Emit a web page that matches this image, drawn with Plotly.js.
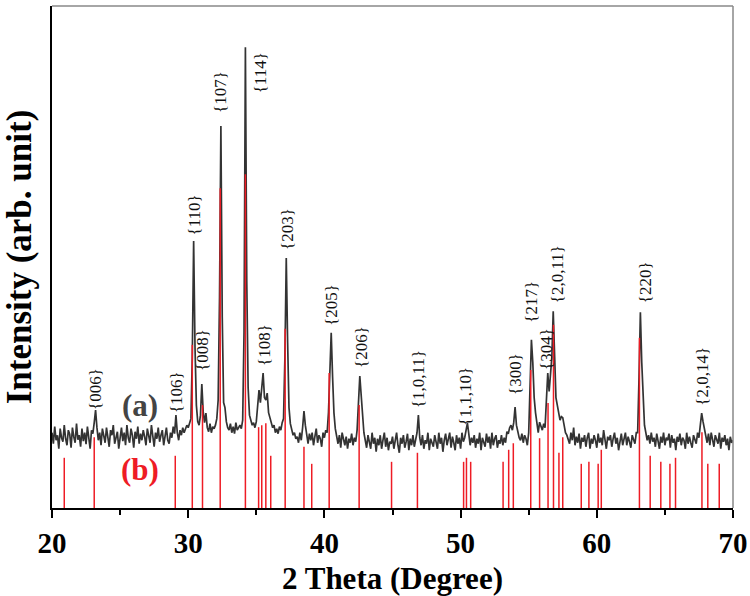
<!DOCTYPE html>
<html>
<head>
<meta charset="utf-8">
<script src="https://cdn.plot.ly/plotly-3.0.1.min.js"></script>
<style>html,body{margin:0;padding:0;background:#fff;}#chart{width:750px;height:596px;}</style>
</head>
<body>
<div id="chart"></div>
<script>
// Measured XRD pattern (a): start angle, step, intensities (arb. unit)
var scanStart = 20.0;
var scanStep = 0.1;
var intensity = [
150,128,162,135,145,118,158,140,132,165,
138,125,155,147,120,160,142,130,168,136,
145,122,158,133,150,127,162,140,118,155,
148,170,195,160,135,150,125,158,142,130,
160,137,122,155,145,165,128,140,152,118,
142,160,133,150,125,165,140,130,158,145,
120,152,138,162,128,148,135,155,142,125,
158,140,130,165,145,122,150,138,160,132,
145,155,125,142,160,135,128,150,140,162,
148,185,150,135,155,145,160,150,158,165,
160,170,178,300,532,320,205,172,165,185,
247,192,170,189,160,152,168,150,162,158,
165,178,215,420,761,380,210,200,172,160,
155,168,150,162,148,170,155,160,165,158,
175,350,918,450,240,185,175,165,170,160,
172,205,235,210,250,269,220,215,229,190,
180,170,160,165,150,158,148,162,155,170,
178,300,498,330,200,168,155,145,150,138,
142,130,150,135,160,193,165,140,128,148,
135,150,125,142,158,130,145,138,122,150,
140,155,150,190,280,349,262,190,158,140,
128,145,120,150,135,125,142,118,138,130,
148,125,140,132,155,200,263,225,175,150,
135,120,145,130,118,150,128,140,112,138,
125,145,118,135,150,122,140,115,132,128,
142,118,135,150,125,110,140,128,145,120,
132,148,115,138,125,145,122,140,150,185,
140,125,145,118,135,128,150,115,138,130,
122,145,130,118,150,128,140,112,135,148,
125,138,150,120,142,130,115,145,128,140,
118,150,132,140,155,169,148,125,140,130,
145,120,138,128,150,115,140,132,122,148,
130,142,118,150,125,138,145,120,135,128,
145,125,140,130,152,148,160,165,155,170,
201,165,150,140,135,148,130,145,138,125,
150,230,335,290,220,190,165,150,171,160,
155,168,160,215,269,232,260,300,392,290,
220,205,190,175,182,180,165,150,145,138,
128,150,135,160,125,142,130,148,118,140,
132,145,122,140,150,118,138,128,145,135,
120,148,130,140,125,155,132,118,142,135,
145,122,138,150,128,140,115,135,148,125,
138,150,125,142,132,120,145,135,128,150,
150,260,390,290,210,165,150,135,145,128,
150,132,140,122,148,135,118,142,130,150,
125,140,135,148,120,145,130,138,115,142,
132,148,125,140,135,118,150,128,142,130,
120,145,135,128,150,140,165,189,172,155,
140,130,148,125,150,135,122,145,138,128,
150,118,140,132,145,125,138,115,142,130,
135
];

// Reference pattern (b): stick positions and heights
var refPos = [20.9,23.1,29.05,30.3,31.05,32.35,34.2,35.17,35.4,35.7,36.06,37.12,38.5,39.07,40.35,42.55,44.93,46.83,50.22,50.43,50.74,53.12,53.53,53.87,55.15,55.8,56.42,56.82,57.22,57.5,58.86,59.42,60.1,60.33,63.13,63.92,64.7,65.37,65.78,67.72,68.15,68.99];
var refHeight = [100,141,104,325,205,637,665,161,165,169,104,357,122,88,269,205,92,110,92,100,92,92,116,129,275,139,209,365,110,141,88,92,88,116,339,104,92,88,100,151,88,88];

// Peak labels
var peakLabels = ["{006}","{106}","{110}","{008}","{107}","{114}","{108}","{203}","{205}","{206}","{1,0,11}","{1,1,10}","{300}","{217}","{304}","{2,0,11}","{220}","{2,0,14}"];
var labelX = [23.15,29.1,30.43,31.09,32.41,35.27,35.64,37.33,40.56,42.76,46.87,50.4,53.99,55.24,56.34,57.08,63.54,67.8];
var labelY = [191,185,538,269,783,823,279,510,359,275,195,159,221,365,271,404,404,199];

var xTickVals = [20,30,40,50,60,70];

var scanX = intensity.map(function(_, i){ return +(scanStart + i*scanStep).toFixed(2); });

var stickX = [], stickY = [];
refPos.forEach(function(p, i){ stickX.push(p, p, null); stickY.push(0, refHeight[i], null); });

var traces = [
  {x: scanX, y: intensity, type: 'scatter', mode: 'lines', line: {color: '#333333', width: 1.7}, hoverinfo: 'x+y', showlegend: false},
  {x: stickX, y: stickY, type: 'scatter', mode: 'lines', line: {color: '#ee1c25', width: 1.5}, hoverinfo: 'x', showlegend: false}
];

var serif = 'Liberation Serif, Times New Roman, serif';
var annotations = peakLabels.map(function(t, i){
  return {x: labelX[i], y: labelY[i], xref: 'x', yref: 'y', text: t, showarrow: false, textangle: -90,
    xanchor: 'center', yanchor: 'bottom', font: {family: serif, size: 17, color: '#111'}};
});
annotations.push({x: 26.46, y: 205, xref: 'x', yref: 'y', text: '<b>(a)</b>', showarrow: false,
  font: {family: serif, size: 31, color: '#444'}});
annotations.push({x: 26.46, y: 76, xref: 'x', yref: 'y', text: '<b>(b)</b>', showarrow: false,
  font: {family: serif, size: 31, color: '#ee1c25'}});

var layout = {
  width: 750, height: 596,
  margin: {l: 52, r: 17, t: 6, b: 88},
  paper_bgcolor: '#fff', plot_bgcolor: '#fff',
  showlegend: false,
  xaxis: {
    range: [20, 70], tickvals: xTickVals, ticktext: xTickVals.map(String),
    ticks: 'outside', ticklen: 8, tickwidth: 2, tickcolor: '#000',
    minor: {dtick: 5, tick0: 20, ticks: 'outside', ticklen: 5, tickwidth: 2, tickcolor: '#000', showgrid: false},
    showline: true, linecolor: '#000', linewidth: 2, showgrid: false, zeroline: false,
    tickfont: {family: serif, size: 29, color: '#000', weight: 'bold'},
    title: {text: '<b>2 Theta (Degree)</b>', font: {family: serif, size: 31, color: '#000'}, standoff: 10}
  },
  yaxis: {
    range: [0, 1000], showticklabels: false, ticks: '', showgrid: false, zeroline: false,
    showline: true, linecolor: '#000', linewidth: 2,
    title: {text: '<b>Intensity (arb. unit)</b>', font: {family: serif, size: 35, color: '#000'}, standoff: 12}
  },
  shapes: [
    {type: 'line', xref: 'paper', yref: 'paper', x0: 0, x1: 1, y0: 1, y1: 1, line: {color: '#888', width: 1.5}},
    {type: 'line', xref: 'paper', yref: 'paper', x0: 1, x1: 1, y0: 0, y1: 1, line: {color: '#888', width: 1.5}}
  ],
  annotations: annotations
};

Plotly.newPlot('chart', traces, layout, {displayModeBar: false, staticPlot: true});
</script>
</body>
</html>
